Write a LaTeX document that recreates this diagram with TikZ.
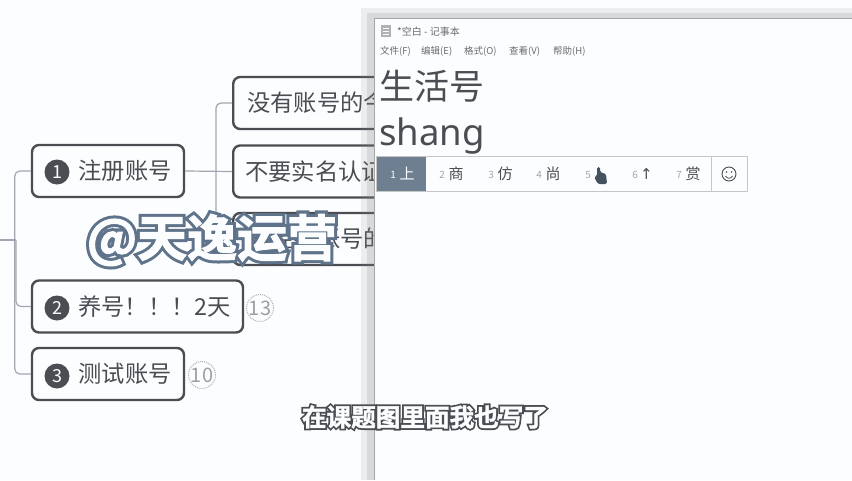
\documentclass[tikz,border=0pt]{standalone}
\usepackage{fontspec}
\usepackage{xcolor}
\usetikzlibrary{calc,positioning}
\setmainfont{Noto Sans CJK SC}
\newfontfamily\latinfont{Noto Sans}
\newfontfamily\symfont{DejaVu Sans}
\newfontfamily\capline[FakeBold=16]{Noto Sans CJK SC Bold}
\newfontfamily\capfill[FakeBold=1.5]{Noto Sans CJK SC Bold}
\newfontfamily\markline[FakeBold=14]{Noto Sans CJK SC Bold}
\newfontfamily\markwhite[FakeBold=2]{Noto Sans CJK SC Bold}
\definecolor{paper}{HTML}{FCFDFF}
\definecolor{ink}{HTML}{4A4D52}
\definecolor{slate}{HTML}{6F7F92}
\definecolor{wire}{HTML}{A0A7B0}
\definecolor{markblue}{HTML}{5F738A}
\newcommand{\px}[1]{\fontsize{#1pt}{#1pt}\selectfont}
\tikzset{
  topic/.style={draw=ink, line width=2.4pt, rounded corners=7pt, fill=paper, text=ink,
    minimum height=52pt, inner xsep=0pt, inner ysep=0pt, font=\px{23.3}},
  subtopic/.style={topic, anchor=west, text width=216pt, align=left, inner xsep=14pt},
  numdot/.style={circle, fill=ink, text=paper, minimum size=25pt, inner sep=0pt, font=\px{18}},
  countdot/.style={circle, draw=gray!60, line width=1pt, densely dotted, text=gray!75, minimum size=27pt,
    inner sep=0pt, font=\px{20}},
  link/.style={draw=wire, line width=1.2pt, rounded corners=5pt},
  menuitem/.style={anchor=west, text=gray!85!black, inner sep=0pt, font=\px{9.5}},
  pick/.style={anchor=west, text=ink, inner sep=0pt, font=\px{15}},
  picknum/.style={anchor=east, text=gray!70, inner sep=0pt, font=\px{10}}
}
\begin{document}
\begin{tikzpicture}[x=1pt,y=-1pt]
  \useasboundingbox (0,0) rectangle (852,480);
  \fill[paper] (0,0) rectangle (852,480);

  % left branch of the map
  \coordinate (stem) at (0,240);
  \coordinate (spine) at (16,240);
  \node[topic, minimum width=152pt] (reg) at (108,171) {\hspace*{34pt}注册账号};
  \node[topic, minimum width=211pt] (raise) at (137.5,306.5) {\hspace*{34pt}养号！！！2天};
  \node[topic, minimum width=152pt] (test) at (108,374) {\hspace*{34pt}测试账号};
  \draw[link] (stem) -- (spine);
  \draw[link] (reg.west) -- ++(-16,0) |- (test.west);
  \draw[link] (spine) |- (raise.west);
  \node[numdot] (n1) at (57,172) {1};
  \node[numdot] (n2) at (57,308) {2};
  \node[numdot] (n3) at (57,376) {3};
  \node[countdot] (c2) at (260,308) {13};
  \node[countdot] (c3) at (202,375) {10};

  % children of the first topic, they run on under the window
  \node[subtopic] (sub1) at (232,103) {没有账号的今天};
  \node[subtopic, inner xsep=12pt, text width=220pt] (sub2) at (232,171.5) {不要实名认证};
  \node[subtopic] (sub3) at (232,239) {已经有账号的人};
  \draw[link] (reg.east) -- (sub2.west);
  \draw[link] (sub1.west) -- ++(-16,0) |- (sub3.west);

  % watermark
  \node[text=markblue, inner sep=0pt, font=\markline\px{50}] (markback) at (212,240) {@天逸运营};
  \node[text=paper, inner sep=0pt, font=\markwhite\px{50}] (markfront) at (212,240) {@天逸运营};

  % notepad window
  \fill[gray, opacity=0.12] (361,8) rectangle (852,480);
  \fill[gray, opacity=0.18] (367,13) rectangle (852,480);
  \fill[paper] (374,18) rectangle (852,480);
  \draw[gray!70, line width=1pt] (374,480) -- (374,18) -- (852,18);
  \fill[gray!60] (381,25) rectangle (391,37);
  \foreach \y in {28,31,34} {
    \draw[paper, line width=0.6pt] (383,\y) -- (389,\y);
  }
  \node[menuitem, font=\px{10}] (title) at (397,31.5) {*空白 - 记事本};
  \node[menuitem] (m1) at (380,51) {文件(F)};
  \node[menuitem] (m2) at (421,51) {编辑(E)};
  \node[menuitem] (m3) at (464,51) {格式(O)};
  \node[menuitem] (m4) at (509,51) {查看(V)};
  \node[menuitem] (m5) at (553,51) {帮助(H)};
  \node[anchor=west, inner sep=0pt, text=ink, font=\px{35}] (line1) at (379,86) {生活号};
  \node[anchor=base west, inner sep=0pt, text=ink, font=\latinfont\px{36.5}] (line2) at (379,145) {shang};

  % candidate bar
  \draw[gray!45, fill=paper, line width=0.8pt] (376.5,156.5) rectangle (747,191);
  \fill[slate] (377,157) rectangle (426,191);
  \draw[gray!45, line width=0.8pt] (711,157) -- (711,191);
  \node[picknum, text=paper] (p1) at (396,174.5) {1};
  \node[pick, text=paper] (c1) at (399.5,174) {上};
  \foreach \n/\x/\c in {2/445/商,3/494/仿,4/542/尚,7/682/赏} {
    \node[picknum] (p\n) at (\x,174.5) {\n};
    \node[pick] (c\n) at ($(\x,174)+(3.5,0)$) {\c};
  }
  \node[picknum] (p5) at (591,174.5) {5};
  \node[picknum] (p6) at (638,174.5) {6};
  \node[pick, font=\symfont\px{15}] (c6) at (640,174) {↑};
  \fill[markblue!70!black, rounded corners=1.5pt] (597,167) -- (600,167) -- (600,172) -- (606,174)
    -- (607,184) -- (598,184) -- (594,177) -- (597,176) -- cycle;
  \draw[ink, line width=0.9pt] (729,174) circle (7pt);
  \fill[ink] (726.5,172) circle (0.9pt) (731.5,172) circle (0.9pt);
  \draw[ink, line width=0.8pt] (725.5,176) .. controls (727,179) and (731,179) .. (732.5,176);

  % caption
  \node[text=ink, inner sep=0pt, font=\capline\px{24.6}] (capback) at (425,417) {在课题图里面我也写了};
  \node[text=paper, inner sep=0pt, font=\capfill\px{24.6}] (capfront) at (425,417) {在课题图里面我也写了};
\end{tikzpicture}
\end{document}
